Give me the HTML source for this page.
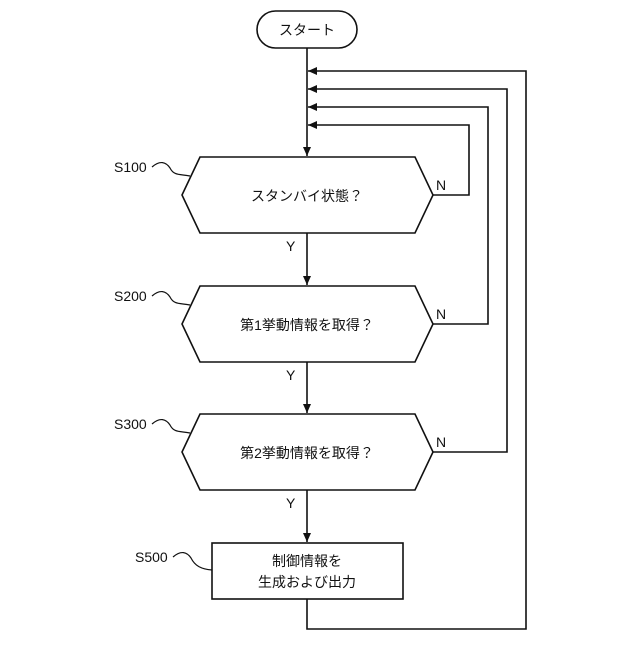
<!DOCTYPE html>
<html><head><meta charset="utf-8"><style>
html,body{margin:0;padding:0;background:#fff}
text{font-family:"Liberation Sans","Noto Sans CJK JP",sans-serif;fill:#111}
</style></head><body>
<svg width="640" height="640" viewBox="0 0 640 640" xmlns="http://www.w3.org/2000/svg">
<defs><marker id="a" markerWidth="10" markerHeight="10" refX="9" refY="5" orient="auto" markerUnits="userSpaceOnUse"><path d="M0,1 L9,5 L0,9 z" fill="#111"/></marker></defs>
<g stroke="#111" stroke-width="1.6" fill="none">
<rect x="257" y="11" width="100" height="37" rx="18.5" fill="#fff"/>
<line x1="307" y1="48" x2="307" y2="156" marker-end="url(#a)"/>
<path d="M433,195 H469 V125 H308" marker-end="url(#a)"/>
<path d="M433,324 H488 V107 H308" marker-end="url(#a)"/>
<path d="M433,452 H507 V89 H308" marker-end="url(#a)"/>
<path d="M307,599 V629 H526 V71 H308" marker-end="url(#a)"/>
<line x1="307" y1="233" x2="307" y2="285" marker-end="url(#a)"/>
<line x1="307" y1="362" x2="307" y2="413" marker-end="url(#a)"/>
<line x1="307" y1="490" x2="307" y2="542" marker-end="url(#a)"/>
<polygon points="200,157 415,157 433,195 415,233 200,233 182,195" fill="#fff"/>
<polygon points="200,286 415,286 433,324 415,362 200,362 182,324" fill="#fff"/>
<polygon points="200,414 415,414 433,452 415,490 200,490 182,452" fill="#fff"/>
<rect x="212" y="543" width="191" height="56" fill="#fff"/>
<path d="M152,167 C160,160 166,162 170,168 C174,176 180,174 190,176" stroke-width="1.2"/>
<path d="M152,296 C160,289 166,291 170,297 C174,305 180,303 190,305" stroke-width="1.2"/>
<path d="M152,424 C160,417 166,419 170,425 C174,433 180,431 190,433" stroke-width="1.2"/>
<path d="M173,557 C181,550 187,552 191,558 C195,566 201,569 212,570" stroke-width="1.2"/>
</g>
<g font-size="14">
<text x="307" y="35" text-anchor="middle">スタート</text>
<text x="307" y="201" text-anchor="middle">スタンバイ状態？</text>
<text x="307" y="330" text-anchor="middle">第1挙動情報を取得？</text>
<text x="307" y="458" text-anchor="middle">第2挙動情報を取得？</text>
<text x="307" y="566" text-anchor="middle">制御情報を</text>
<text x="307" y="587" text-anchor="middle">生成および出力</text>
<text x="114" y="172">S100</text>
<text x="114" y="301">S200</text>
<text x="114" y="429">S300</text>
<text x="135" y="562">S500</text>
<text x="436" y="190">N</text>
<text x="436" y="319">N</text>
<text x="436" y="447">N</text>
<text x="286" y="251">Y</text>
<text x="286" y="380">Y</text>
<text x="286" y="508">Y</text>
</g>
</svg>
</body></html>
